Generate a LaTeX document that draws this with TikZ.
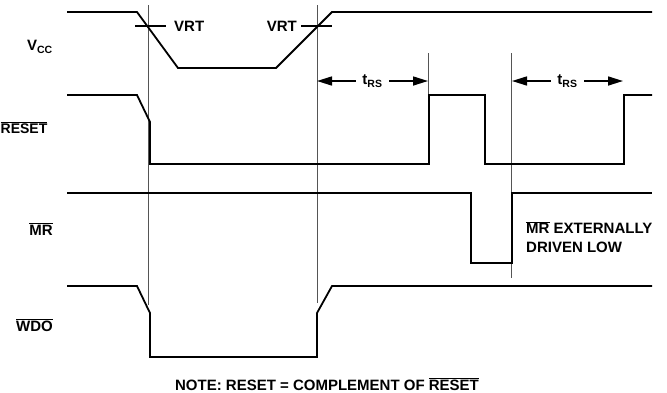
\documentclass[tikz,border=0pt]{standalone}
\usepackage{fontspec}
\setmainfont{Liberation Sans}
\usepackage{tikz}
\usetikzlibrary{arrows.meta}
\definecolor{GuideGray}{HTML}{555555}
\newcommand{\ovl}[1]{$\overline{\mbox{#1}}$}

\begin{document}
\begin{tikzpicture}[x=1pt, y=-1pt,
    sig/.style={line width=1.8pt, line join=miter},
    guide/.style={line width=0.7pt, color=GuideGray},
    lbl/.style={font=\fontsize{15}{18}\selectfont\bfseries, inner sep=0pt},
    trs/.style={line width=1.6pt, {Triangle[length=15pt,width=9pt]}-{Triangle[length=15pt,width=9pt]}}]
    \useasboundingbox (0,0) rectangle (667,392);

    % guide lines
    \draw[guide] (148,5) -- (148,305);
    \draw[guide] (317,5) -- (317,303);
    \draw[guide] (428,53) -- (428,95);
    \draw[guide] (511,53) -- (511,278);

    % VCC
    \draw[sig] (67,12) -- (137,12) -- (178,68) -- (276,68) -- (332,12) -- (652,12);
    \draw[sig] (135,26) -- (166,26);
    \draw[sig] (301,26) -- (332,26);
    \node[lbl, anchor=west] (vrt1) at (174,26) {VRT};
    \node[lbl, anchor=east] (vrt2) at (297,26) {VRT};
    \node[lbl, anchor=east] (vcc) at (53,47) {V\textsubscript{CC}};

    % RESET
    \draw[sig] (67,95) -- (137,95) -- (150,122) -- (150,164) -- (429,164) -- (429,95) -- (485,95) -- (485,164) -- (624,164) -- (624,95) -- (652,95);
    \node[lbl, anchor=west, font=\fontsize{14}{17}\selectfont\bfseries] (reset) at (0.5,128) {\ovl{RESET}};
    \draw[trs] (317,81) -- (428,81) node[midway, lbl, fill=white, inner xsep=6pt, inner ysep=2pt] (trs1) {t\textsubscript{RS}};
    \draw[trs] (512,81) -- (623,81) node[midway, lbl, fill=white, inner xsep=6pt, inner ysep=2pt] (trs2) {t\textsubscript{RS}};

    % MR
    \draw[sig] (67,193) -- (471,193) -- (471,263) -- (512,263) -- (512,193) -- (652,193);
    \node[lbl, anchor=east] (mr) at (53,229) {\ovl{MR}};
    \node[lbl, anchor=west, align=left, font=\fontsize{15}{19}\selectfont\bfseries] (mrnote) at (526,237) {\ovl{MR} EXTERNALLY\\DRIVEN LOW};

    % WDO
    \draw[sig] (67,286) -- (137,286) -- (150,313) -- (150,357) -- (317,357) -- (317,313) -- (332,286) -- (652,286);
    \node[lbl, anchor=east] (wdo) at (53,325) {\ovl{WDO}};

    \node[lbl] (note) at (327,384) {NOTE: RESET = COMPLEMENT OF \ovl{RESET}};
\end{tikzpicture}
\end{document}
